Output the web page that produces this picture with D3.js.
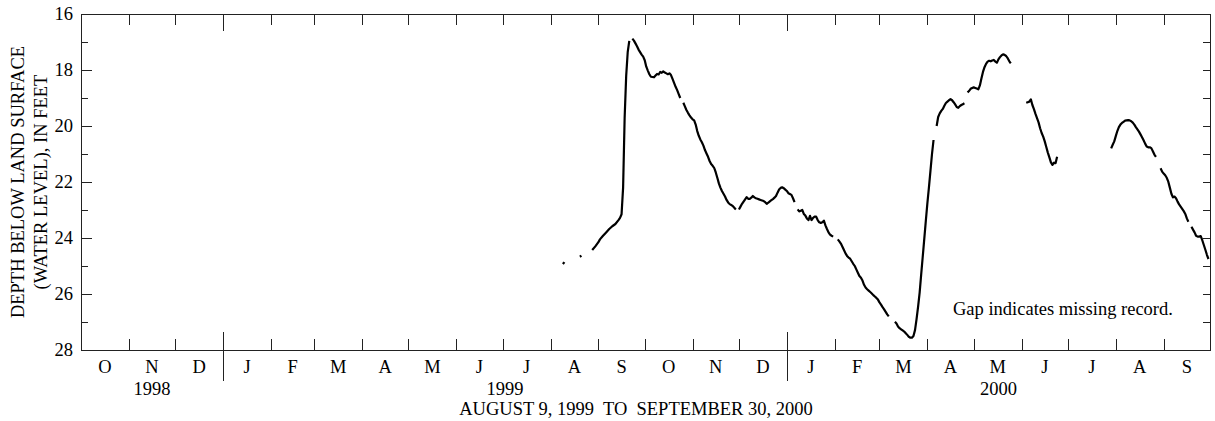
<!DOCTYPE html>
<html><head><meta charset="utf-8">
<script src="https://cdn.jsdelivr.net/npm/d3@7"></script>
<style>
body{margin:0;background:#fff}
svg{display:block}
text{font-family:"Liberation Serif","Times New Roman",Times,serif;fill:#000}
</style>
</head><body>
<svg id="chart" width="1215" height="421"></svg>
<script>
// ---- data ----
const monthLabels = ["O","N","D","J","F","M","A","M","J","J","A","S","O","N","D","J","F","M","A","M","J","J","A","S"];
const yearLabels = ["1998","1999","2000"];
const yTickValues = [16,18,20,22,24,26,28];
const xTitle = "AUGUST 9, 1999  TO  SEPTEMBER 30, 2000";
const yTitleLines = ["DEPTH BELOW LAND SURFACE","(WATER LEVEL), IN FEET"];
const noteText = "Gap indicates missing record.";

// daily water level (feet below land surface); null = missing record
const obsDates = [
"1999-08-09","1999-08-10","1999-08-15","1999-08-20","1999-08-21","1999-08-24",
"1999-08-28","1999-08-30","1999-09-01","1999-09-02","1999-09-04","1999-09-06","1999-09-08","1999-09-10","1999-09-12","1999-09-14",
"1999-09-15","1999-09-16","1999-09-17","1999-09-18","1999-09-19","1999-09-20","1999-09-21","1999-09-22",
"1999-09-23","1999-09-24","1999-09-25","1999-09-26","1999-09-27","1999-09-28","1999-09-29","1999-09-30",
"1999-10-01","1999-10-02","1999-10-03","1999-10-04","1999-10-05","1999-10-06","1999-10-07","1999-10-08","1999-10-09","1999-10-10",
"1999-10-11","1999-10-12","1999-10-13","1999-10-14","1999-10-15","1999-10-16","1999-10-17","1999-10-18","1999-10-19","1999-10-20",
"1999-10-21","1999-10-22","1999-10-23","1999-10-24","1999-10-25","1999-10-26","1999-10-27","1999-10-28","1999-10-29","1999-10-30","1999-10-31",
"1999-11-01","1999-11-02","1999-11-03","1999-11-04","1999-11-05","1999-11-06","1999-11-07","1999-11-08","1999-11-09","1999-11-10",
"1999-11-11","1999-11-12","1999-11-13","1999-11-14","1999-11-15","1999-11-16","1999-11-17","1999-11-18","1999-11-19","1999-11-20",
"1999-11-21","1999-11-22","1999-11-23","1999-11-24","1999-11-25","1999-11-26","1999-11-27","1999-11-28","1999-11-29","1999-11-30",
"1999-12-01","1999-12-02","1999-12-03","1999-12-04","1999-12-05","1999-12-06","1999-12-07","1999-12-08","1999-12-09","1999-12-10",
"1999-12-11","1999-12-12","1999-12-13","1999-12-14","1999-12-15","1999-12-16","1999-12-17","1999-12-18","1999-12-19","1999-12-20",
"1999-12-21","1999-12-22","1999-12-23","1999-12-24","1999-12-25","1999-12-26","1999-12-27","1999-12-28","1999-12-29","1999-12-30","1999-12-31",
"2000-01-01","2000-01-02","2000-01-03","2000-01-04","2000-01-05","2000-01-06","2000-01-07","2000-01-08","2000-01-09","2000-01-10",
"2000-01-11","2000-01-12","2000-01-13","2000-01-14","2000-01-15","2000-01-16","2000-01-17","2000-01-18","2000-01-19","2000-01-20",
"2000-01-21","2000-01-22","2000-01-23","2000-01-24","2000-01-25","2000-01-26","2000-01-27","2000-01-28","2000-01-29","2000-01-30","2000-01-31",
"2000-02-01","2000-02-03","2000-02-04","2000-02-05","2000-02-06","2000-02-07","2000-02-08","2000-02-09","2000-02-10",
"2000-02-11","2000-02-12","2000-02-13","2000-02-14","2000-02-15","2000-02-16","2000-02-17","2000-02-18","2000-02-19","2000-02-20",
"2000-02-21","2000-02-22","2000-02-23","2000-02-24","2000-02-25","2000-02-26","2000-02-27","2000-02-28","2000-02-29",
"2000-03-01","2000-03-02","2000-03-03","2000-03-04","2000-03-05","2000-03-06","2000-03-07","2000-03-09",
"2000-03-11","2000-03-12","2000-03-13","2000-03-14","2000-03-15","2000-03-16","2000-03-17","2000-03-18","2000-03-19","2000-03-20",
"2000-03-21","2000-03-22","2000-03-23","2000-03-24","2000-03-25","2000-03-26","2000-03-27","2000-03-28","2000-03-29","2000-03-30","2000-03-31",
"2000-04-01","2000-04-02","2000-04-03","2000-04-04","2000-04-05","2000-04-06","2000-04-07","2000-04-08","2000-04-09","2000-04-10",
"2000-04-11","2000-04-12","2000-04-13","2000-04-14","2000-04-15","2000-04-16","2000-04-17","2000-04-18","2000-04-19","2000-04-20",
"2000-04-21","2000-04-22","2000-04-23","2000-04-24","2000-04-25","2000-04-26","2000-04-27","2000-04-28","2000-04-29","2000-04-30",
"2000-05-01","2000-05-02","2000-05-03","2000-05-04","2000-05-05","2000-05-06","2000-05-07","2000-05-08","2000-05-09","2000-05-10",
"2000-05-11","2000-05-12","2000-05-13","2000-05-14","2000-05-15","2000-05-16","2000-05-17","2000-05-18","2000-05-19","2000-05-20",
"2000-05-21","2000-05-22","2000-05-23","2000-05-24","2000-05-25","2000-05-28",
"2000-06-04","2000-06-05","2000-06-06","2000-06-07","2000-06-08","2000-06-09","2000-06-10","2000-06-11","2000-06-12","2000-06-13",
"2000-06-14","2000-06-15","2000-06-16","2000-06-17","2000-06-18","2000-06-19","2000-06-20","2000-06-21","2000-06-22","2000-06-23","2000-06-24",
"2000-07-01",
"2000-07-29","2000-07-30","2000-07-31","2000-08-01","2000-08-02","2000-08-03","2000-08-04","2000-08-05","2000-08-06","2000-08-07",
"2000-08-08","2000-08-09","2000-08-10","2000-08-11","2000-08-12","2000-08-13","2000-08-14","2000-08-15","2000-08-16","2000-08-17",
"2000-08-18","2000-08-19","2000-08-20","2000-08-21","2000-08-22","2000-08-23","2000-08-24","2000-08-25","2000-08-26","2000-08-27","2000-08-28",
"2000-08-30","2000-08-31","2000-09-01","2000-09-02","2000-09-03","2000-09-04","2000-09-05","2000-09-06","2000-09-07","2000-09-08",
"2000-09-09","2000-09-10","2000-09-11","2000-09-12","2000-09-13","2000-09-14","2000-09-15","2000-09-16","2000-09-17","2000-09-18",
"2000-09-19","2000-09-20","2000-09-21","2000-09-22","2000-09-23","2000-09-24","2000-09-25","2000-09-26","2000-09-27","2000-09-28","2000-09-29","2000-09-30"
];
const obsDepth = [
24.93,24.86,null,24.67,24.63,null,
24.43,24.30,24.15,24.05,23.92,23.80,23.68,23.58,23.50,23.36,
23.28,23.15,22.20,19.70,18.20,17.35,16.96,null,
16.88,16.95,17.05,17.15,17.27,17.36,17.45,17.52,
17.65,17.88,18.02,18.15,18.24,18.25,18.26,18.20,18.14,18.16,
18.07,18.10,18.05,18.09,18.12,18.15,18.12,18.18,18.32,18.46,
18.60,18.72,18.86,19.00,null,19.17,19.30,19.43,19.53,19.62,19.70,
19.76,19.80,19.95,20.18,20.35,20.48,20.58,20.70,20.86,20.98,
21.10,21.25,21.36,21.42,21.50,21.66,21.85,22.05,22.20,22.32,
22.42,22.52,22.64,22.73,22.79,22.82,22.86,22.92,22.98,null,
22.98,22.88,22.78,22.70,22.62,22.54,22.60,22.60,22.56,22.50,
22.55,22.58,22.60,22.62,22.64,22.66,22.68,22.72,22.78,22.74,
22.69,22.65,22.61,22.56,22.50,22.38,22.27,22.21,22.19,22.22,22.27,
22.32,22.40,22.43,22.46,22.58,22.72,null,22.98,23.05,23.03,
23.00,23.14,23.20,23.30,23.36,23.21,23.36,23.28,23.24,23.24,
23.36,23.44,23.46,23.44,23.38,23.55,23.68,23.80,23.88,23.92,23.95,
null,24.05,24.12,24.20,24.31,24.43,24.55,24.64,24.70,
24.74,24.83,24.92,25.00,25.12,25.24,25.36,25.42,25.52,25.67,
25.77,25.83,25.88,25.93,25.98,26.04,26.09,26.14,26.20,
26.30,26.38,26.47,26.55,26.64,26.73,26.80,null,
26.99,27.05,27.16,27.22,27.26,27.30,27.34,27.40,27.46,27.53,
27.56,27.56,27.50,27.29,26.90,26.45,25.95,25.30,24.67,24.03,23.39,
22.76,22.20,21.60,21.00,20.50,null,20.00,19.68,19.55,19.46,
19.39,19.28,19.18,19.13,19.08,19.04,19.08,19.15,19.23,19.32,
19.35,19.29,19.25,19.22,19.19,null,18.80,18.75,18.67,18.64,
18.62,18.64,18.66,18.69,18.55,18.30,18.07,17.90,17.78,17.70,
17.67,17.69,17.66,17.64,17.70,17.74,17.62,17.54,17.48,17.44,
17.46,17.50,17.58,17.68,17.76,null,
19.17,19.15,19.13,19.05,19.25,19.40,19.57,19.72,19.87,20.08,
20.25,20.38,20.55,20.75,20.95,21.12,21.30,21.39,21.31,21.33,21.10,
null,
20.80,20.67,20.55,20.36,20.18,20.04,19.95,19.89,19.85,19.81,
19.80,19.79,19.80,19.83,19.88,19.95,20.04,20.12,20.20,20.30,
20.40,20.51,20.63,20.73,20.76,20.76,20.79,20.90,21.02,21.10,null,
21.51,21.63,21.70,21.76,21.85,21.99,22.20,22.42,22.55,22.52,
22.58,22.70,22.80,22.88,22.96,23.04,23.14,23.30,23.42,null,
23.60,23.70,23.80,23.92,23.95,23.95,23.93,24.08,24.25,24.42,24.60,24.75
];

// ---- layout ----
const W = 1215, H = 421;
const L = 81, R = 1210, T = 14, B = 350;
const FS = 18.5;
const axisColor = "#222";

const svg = d3.select("#chart");
svg.append("rect").attr("width", W).attr("height", H).attr("fill", "#fff");

const parse = d3.utcParse("%Y-%m-%d");
const data = obsDates.map((d, i) => ({date: parse(d), v: obsDepth[i]}));

const x = d3.scaleUtc()
  .domain([new Date(Date.UTC(1998, 9, 1)), new Date(Date.UTC(2000, 9, 1))])
  .range([L, R]);
const y = d3.scaleLinear().domain([16, 28]).range([T, B]);

const months = d3.utcMonth.range(x.domain()[0], x.domain()[1]);
const innerMonths = months.slice(1);
const janTicks = innerMonths.filter(m => m.getUTCMonth() === 0);
const otherTicks = innerMonths.filter(m => m.getUTCMonth() !== 0);

const g = svg.append("g").attr("shape-rendering", "crispEdges");

function styleAxis(sel) {
  sel.select(".domain").remove();
  sel.selectAll("line").attr("stroke", axisColor).attr("stroke-width", 1);
  sel.selectAll("text").attr("font-size", FS).attr("font-family", '"Liberation Serif", serif').attr("fill", "#000");
}

// left axis: minor (every foot) and major (labelled)
g.append("g").attr("transform", `translate(${L},0)`)
  .call(d3.axisLeft(y).tickValues(d3.range(16, 29, 1)).tickSize(-7).tickFormat(""))
  .call(styleAxis);
g.append("g").attr("transform", `translate(${L},0)`)
  .call(d3.axisLeft(y).tickValues(yTickValues).tickSize(-11).tickPadding(8).tickFormat(d3.format("d")))
  .call(styleAxis);
// right axis
g.append("g").attr("transform", `translate(${R},0)`)
  .call(d3.axisRight(y).tickValues(d3.range(16, 29, 1)).tickSize(-7).tickFormat(""))
  .call(styleAxis);

// top axis ticks
g.append("g").attr("transform", `translate(0,${T})`)
  .call(d3.axisTop(x).tickValues(otherTicks).tickSize(-11).tickFormat(""))
  .call(styleAxis);
g.append("g").attr("transform", `translate(0,${T})`)
  .call(d3.axisTop(x).tickValues(janTicks).tickSize(-17).tickFormat(""))
  .call(styleAxis);
// bottom axis ticks
g.append("g").attr("transform", `translate(0,${B})`)
  .call(d3.axisBottom(x).tickValues(otherTicks).tickSize(-11).tickFormat(""))
  .call(styleAxis);
// year divider ticks (cross the axis)
g.selectAll("line.yeardiv").data(janTicks).join("line")
  .attr("class", "yeardiv")
  .attr("x1", d => Math.round(x(d)) + 0.5).attr("x2", d => Math.round(x(d)) + 0.5)
  .attr("y1", B - 18).attr("y2", B + 31)
  .attr("stroke", axisColor).attr("stroke-width", 1);

// frame
g.append("rect").attr("x", L + 0.5).attr("y", T + 0.5)
  .attr("width", R - L).attr("height", B - T)
  .attr("fill", "none").attr("stroke", axisColor).attr("stroke-width", 1);

// month labels
svg.append("g").selectAll("text").data(months).join("text")
  .attr("x", (d, i) => (x(d) + x(d3.utcMonth.offset(d, 1))) / 2)
  .attr("y", B + 23)
  .attr("text-anchor", "middle").attr("font-size", FS)
  .text((d, i) => monthLabels[i]);

// year labels centred on the displayed part of each year
const yearSpans = [
  [x.domain()[0], janTicks[0]],
  [janTicks[0], janTicks[1]],
  [janTicks[1], x.domain()[1]]
];
svg.append("g").selectAll("text").data(yearSpans).join("text")
  .attr("x", d => (x(d[0]) + x(d[1])) / 2)
  .attr("y", B + 45)
  .attr("text-anchor", "middle").attr("font-size", FS)
  .text((d, i) => yearLabels[i]);

// x title
svg.append("text")
  .attr("x", 636).attr("y", B + 65)
  .attr("text-anchor", "middle").attr("font-size", FS)
  .style("white-space", "pre")
  .text(xTitle);

// y title
const yMid = (T + B) / 2;
svg.append("g").selectAll("text").data(yTitleLines).join("text")
  .attr("transform", (d, i) => `translate(${[24, 47][i]},${yMid}) rotate(-90)`)
  .attr("text-anchor", "middle").attr("font-size", FS)
  .text(d => d);

// note
svg.append("text").attr("x", 953).attr("y", 315).attr("font-size", FS).text(noteText);

// water level line
const line = d3.line()
  .defined(d => d.v != null)
  .x(d => x(d.date))
  .y(d => y(d.v));
svg.append("path").datum(data)
  .attr("d", line)
  .attr("fill", "none").attr("stroke", "#000").attr("stroke-width", 2.2)
  .attr("stroke-linejoin", "round").attr("stroke-linecap", "butt");
</script>
</body></html>
